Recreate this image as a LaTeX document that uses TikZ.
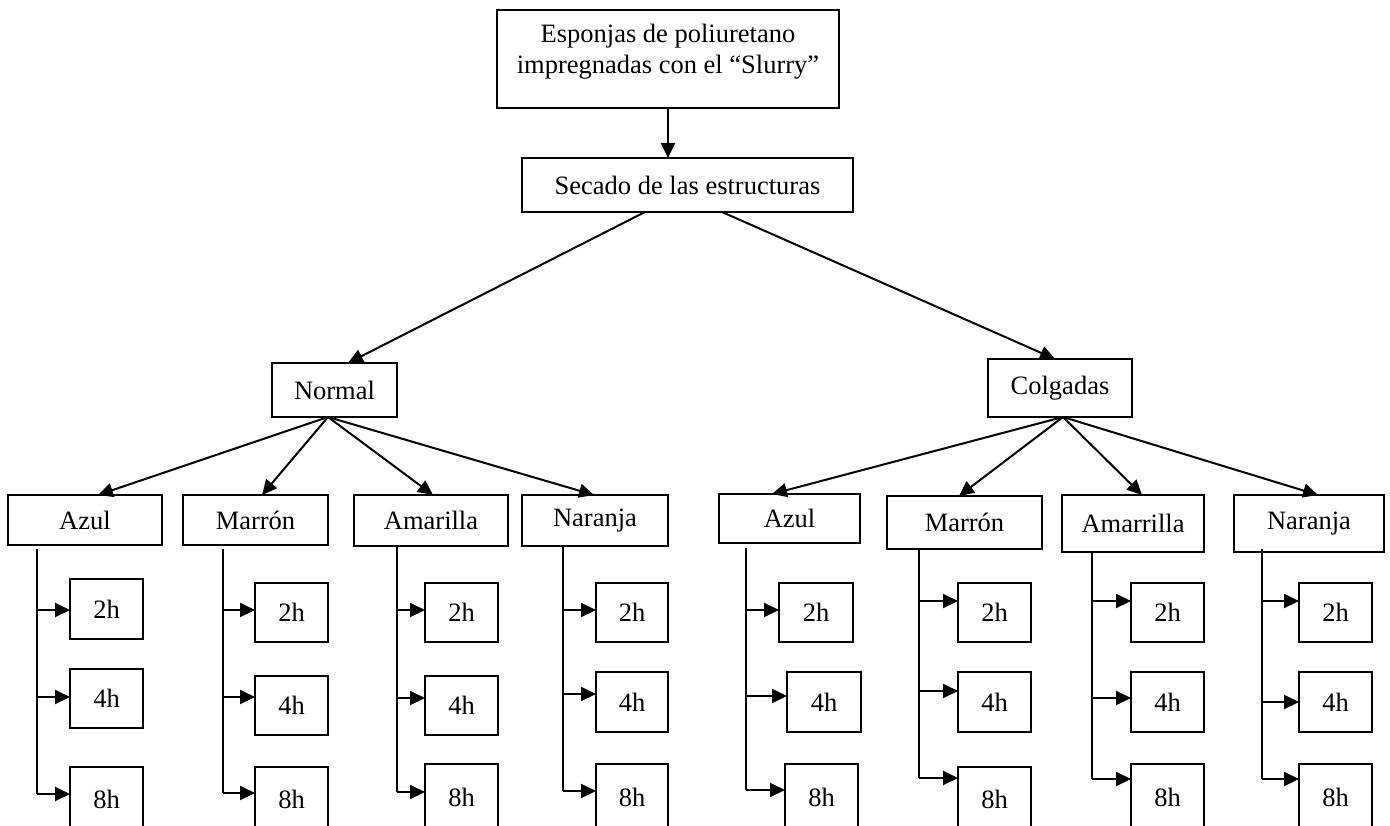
\documentclass[tikz,border=0pt]{standalone}
\usepackage{fontspec}
\setmainfont{Liberation Serif}
\usetikzlibrary{arrows.meta}
\tikzset{
  box/.style={draw=black, line width=2.1pt, inner sep=0pt, outer sep=0pt, font=\fontsize{26.5}{31}\selectfont},
  conn/.style={draw=black, line width=2pt},
  arr/.style={conn, -{Triangle[length=15pt,width=14pt]}}
}
\newcommand\mybox[6]{\node[box, minimum width={#4-#2}, minimum height={#5-#3}] (#1) at ({(#2+#4)/2},{(#3+#5)/2}) {#6};}
\begin{document}
\begin{tikzpicture}[x=1pt,y=-1pt]
\useasboundingbox (0,0) rectangle (1390,825);
\clip (0,0) rectangle (1390,825);
\fill[white] (0,0) rectangle (1390,825);

% top levels
\node[box, minimum width=342, minimum height=98, align=center, text depth=20pt] (top) at (668,59)
  {Esponjas de poliuretano\\impregnadas con el “Slurry”};
\mybox{sec}{522}{158}{853}{212}{Secado de las estructuras}
\mybox{nor}{272}{363}{397}{417}{Normal}
\mybox{col}{988}{359}{1132}{417}{Colgadas}

\draw[arr] (top.south) -- (top.south |- sec.north);
\draw[arr] ([xshift=-42.5pt]sec.south) -- ([xshift=13.5pt]nor.north);
\draw[arr] ([xshift=34.5pt]sec.south) -- ([xshift=-5pt]col.north);

% second level
\mybox{pNA}{8}{495}{162}{545}{Azul}
\mybox{pNM}{183}{495}{328}{545}{Marrón}
\mybox{pNY}{354}{495}{508}{546}{Amarilla}
\mybox{pNN}{522}{495}{668}{546}{Naranja}
\mybox{pCA}{719}{494}{860}{543}{Azul}
\mybox{pCM}{887}{496}{1042}{549}{Marrón}
\mybox{pCY}{1062}{495}{1204}{552}{Amarrilla}
\mybox{pCN}{1234}{495}{1384}{552}{Naranja}

\draw[arr] ([xshift=-6.5pt]nor.south) -- ([xshift=13pt]pNA.north);
\draw[arr] ([xshift=-6.5pt]nor.south) -- ([xshift=6.5pt]pNM.north);
\draw[arr] ([xshift=-6.5pt]nor.south) -- ([xshift=2pt]pNY.north);
\draw[arr] ([xshift=-6.5pt]nor.south) -- ([xshift=-1pt]pNN.north);
\draw[arr] ([xshift=3pt]col.south) -- ([xshift=-17.5pt]pCA.north);
\draw[arr] ([xshift=3pt]col.south) -- ([xshift=-5.5pt]pCM.north);
\draw[arr] ([xshift=3pt]col.south) -- ([xshift=9pt]pCY.north);
\draw[arr] ([xshift=3pt]col.south) -- ([xshift=9pt]pCN.north);

% third level
\foreach \n/\sx/\xa/\xb/\ya/\yb/\ay/\t in {
NA1/37/70/143/579/639/610/2h, NA2/37/70/143/669/728/697/4h, NA3/37/70/143/767/832/794/8h,
NM1/223/255/328/583/642/610/2h, NM2/223/255/328/676/735/697/4h, NM3/223/255/328/767/832/793/8h,
NY1/397/425/498/583/642/610/2h, NY2/397/425/498/676/735/698/4h, NY3/397/425/498/764/830/792/8h,
NN1/563/596/668/583/642/610/2h, NN2/563/596/668/672/732/694/4h, NN3/563/596/668/764/830/791/8h,
CA1/746/779/853/583/642/610/2h, CA2/746/787/861/672/732/696/4h, CA3/746/785/858/764/830/790/8h,
CM1/919/958/1031/583/642/601/2h, CM2/919/958/1031/672/732/691/4h, CM3/919/958/1031/767/832/778/8h,
CY1/1092/1131/1204/583/642/601/2h, CY2/1092/1131/1204/672/732/698/4h, CY3/1092/1131/1204/764/830/779/8h,
CN1/1262/1299/1372/583/642/601/2h, CN2/1262/1299/1372/672/732/702/4h, CN3/1262/1299/1372/764/830/779/8h}
{
  \mybox{\n}{\xa}{\ya}{\xb}{\yb}{\t}
  \coordinate (s\n) at (\sx,\ay);
  \draw[arr] (s\n) -- (s\n -| \n.west);
}

% stems
\foreach \n/\sx/\st in {NA/37/549, NM/223/549, NY/397/547, NN/563/547,
                        CA/746/548, CM/919/549, CY/1092/552, CN/1262/549}
{
  \coordinate (t\n) at (\sx,\st);
  \draw[conn] (t\n) -- (s\n3);
}
\end{tikzpicture}
\end{document}
